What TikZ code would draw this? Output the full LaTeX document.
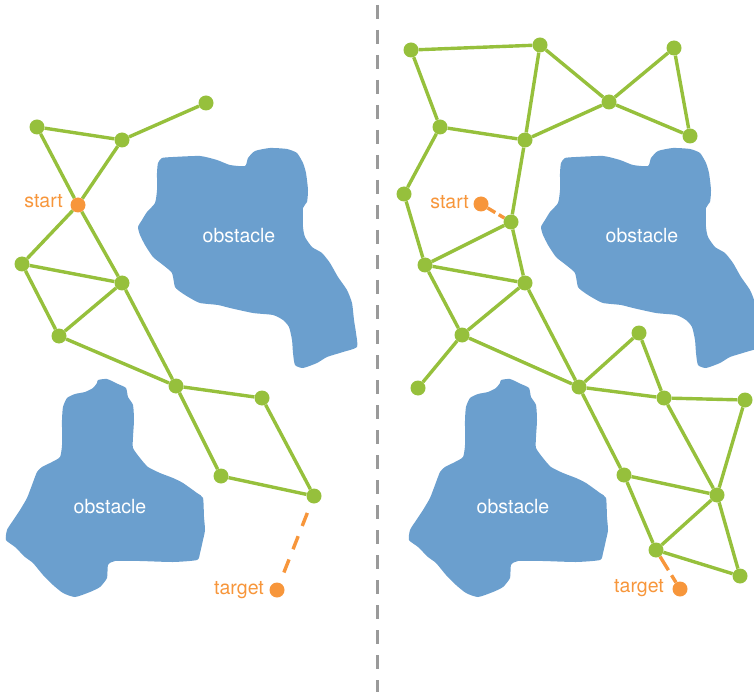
\documentclass[tikz,border=0pt]{standalone}
\usepackage{fontspec}
\setmainfont{TeX Gyre Heros}
\usetikzlibrary{backgrounds}

\definecolor{edgegreen}{HTML}{96C03C}
\definecolor{pathorange}{HTML}{F7963B}
\definecolor{obstblue}{HTML}{6B9FCE}
\definecolor{sepgray}{HTML}{9A9A9A}

\tikzset{
  dot/.style={circle, fill=edgegreen, draw=none, inner sep=0pt, minimum size=15pt},
  enddot/.style={circle, fill=pathorange, draw=none, inner sep=0pt, minimum size=15pt},
  edge/.style={draw=edgegreen, line width=3.4pt},
  link/.style={draw=pathorange, line width=3.4pt},
  tag/.style={text=pathorange, inner sep=0pt, anchor=east, font=\fontsize{19.5}{21}\selectfont},
  obst/.style={fill=obstblue, draw=none},
  obstlabel/.style={text=white, inner sep=0pt, font=\fontsize{19.5}{21}\selectfont},
  divider/.style={draw=sepgray, line width=3pt, dash pattern=on 14pt off 11pt},
}

% outline of the upper obstacle
\def\upperobstacle{
  (162,158) (173,157) (200,156) (217,160) (230,165) (245,166) (248,158)
  (255,151) (270,148) (287,149) (297,153) (303,163) (306,173) (308,190)
  (307,202) (303,208) (303,227) (305,237) (312,247) (322,253) (330,263)
  (338,277) (347,290) (352,303) (354,320) (356,333) (357,347) (343,352)
  (327,357) (317,363) (303,368) (295,365) (293,353) (292,340) (289,327)
  (283,320) (273,315) (253,313) (230,308) (218,305) (200,303) (190,298)
  (182,293) (175,287) (172,273) (163,265) (153,257) (145,245) (140,235)
  (138,227) (142,220) (147,212) (155,203) (157,190) (157,173) (158,163)}

% outline of the lower obstacle
\def\lowerobstacle{
  (98,380) (107,379) (118,384) (126,388) (128,397) (133,405) (134,420)
  (133,437) (133,448) (140,458) (148,467) (160,473) (173,478) (183,483)
  (197,493) (203,498) (204,517) (205,530) (203,540) (200,553) (197,560)
  (173,562) (140,561) (115,561) (108,565) (107,578) (100,587) (90,592)
  (75,597) (63,593) (53,585) (43,575) (33,563) (25,557) (15,547) (6,540)
  (7,530) (12,522) (20,510) (27,498) (32,485) (37,472) (42,467) (52,462)
  (60,457) (62,445) (62,420) (63,407) (67,398) (75,394) (85,392) (93,388)
  (97,383)}

\begin{document}
\begin{tikzpicture}[x=1pt, y=-1pt]
\useasboundingbox (0,0) rectangle (754,692);

% obstacles, the same two shapes in both halves
\begin{scope}
  \clip (0,0) rectangle (754,692);
  \foreach \dx in {0,403} {
    \begin{scope}[xshift=\dx pt]
      \fill[obst] plot[smooth cycle, tension=0.35] coordinates {\upperobstacle};
      \fill[obst] plot[smooth cycle, tension=0.35] coordinates {\lowerobstacle};
    \end{scope}
  }
\end{scope}
\node[obstlabel] (o1) at (239,236) {obstacle};
\node[obstlabel] (o2) at (110,507) {obstacle};
\node[obstlabel] (o3) at (642,236) {obstacle};
\node[obstlabel] (o4) at (513,507) {obstacle};

% divider between the two halves
\draw[divider] (377.5,5) -- (377.5,692);

% ---------- left roadmap ----------
\node[dot] (a1)  at (37,127) {};
\node[dot] (a2)  at (122,140) {};
\node[dot] (a3)  at (206,103) {};
\node[enddot] (s) at (78,205) {};
\node[dot] (a4)  at (22,264) {};
\node[dot] (a5)  at (122,283) {};
\node[dot] (a6)  at (59,336) {};
\node[dot] (a7)  at (176,386) {};
\node[dot] (a8)  at (262,398) {};
\node[dot] (a9)  at (221,476) {};
\node[dot] (a10) at (314,496) {};
\node[enddot] (t) at (277,590) {};

\node[tag] (sl) at (63,201) {start};
\node[tag] (tl) at (264,590) {target};

\begin{pgfonlayer}{background}
  \path[edge] (a1) -- (a2) (a2) -- (a3) (a1) -- (s) (a2) -- (s)
    (s) -- (a4) (s) -- (a5) (a4) -- (a5) (a4) -- (a6) (a6) -- (a5)
    (a5) -- (a7) (a6) -- (a7) (a7) -- (a8) (a7) -- (a9)
    (a8) -- (a10) (a9) -- (a10);
  \path[link, dash pattern=on 14pt off 11pt, shorten <=10.5pt, shorten >=11pt]
    (a10) -- (t);
\end{pgfonlayer}

% ---------- right roadmap ----------
\node[dot] (b1)  at (411,50) {};
\node[dot] (b2)  at (540,45) {};
\node[dot] (b3)  at (674,48) {};
\node[dot] (b4)  at (609,102) {};
\node[dot] (b5)  at (690,136) {};
\node[dot] (b6)  at (440,127) {};
\node[dot] (b7)  at (525,140) {};
\node[dot] (b8)  at (404,194) {};
\node[enddot] (s2) at (481,204) {};
\node[dot] (b9)  at (511,222) {};
\node[dot] (b10) at (425,265) {};
\node[dot] (b11) at (525,283) {};
\node[dot] (b12) at (462,335) {};
\node[dot] (b13) at (418,388) {};
\node[dot] (b14) at (579,387) {};
\node[dot] (b15) at (639,333) {};
\node[dot] (b16) at (664,398) {};
\node[dot] (b17) at (745,400) {};
\node[dot] (b18) at (624,475) {};
\node[dot] (b19) at (717,495) {};
\node[dot] (b20) at (656,550) {};
\node[dot] (b21) at (740,576) {};
\node[enddot] (t2) at (680,589) {};

\node[tag] (sr) at (469,202) {start};
\node[tag] (tr) at (664,588) {target};

\begin{pgfonlayer}{background}
  \path[edge] (b1) -- (b2) (b1) -- (b6) (b2) -- (b7) (b2) -- (b4)
    (b4) -- (b3) (b4) -- (b5) (b3) -- (b5) (b4) -- (b7) (b6) -- (b7)
    (b6) -- (b8) (b7) -- (b9) (b8) -- (b10) (b9) -- (b10) (b9) -- (b11)
    (b10) -- (b11) (b10) -- (b12) (b11) -- (b12) (b12) -- (b13)
    (b12) -- (b14) (b11) -- (b14) (b14) -- (b15) (b14) -- (b16)
    (b15) -- (b16) (b16) -- (b17) (b16) -- (b19) (b17) -- (b19)
    (b14) -- (b18) (b18) -- (b19) (b18) -- (b20) (b19) -- (b20)
    (b19) -- (b21) (b20) -- (b21);
  \path[link, dash pattern=on 9pt off 4pt] (s2) -- (b9);
  \path[link, dash pattern=on 16pt off 6pt] (b20) -- (t2);
\end{pgfonlayer}
\end{tikzpicture}
\end{document}
